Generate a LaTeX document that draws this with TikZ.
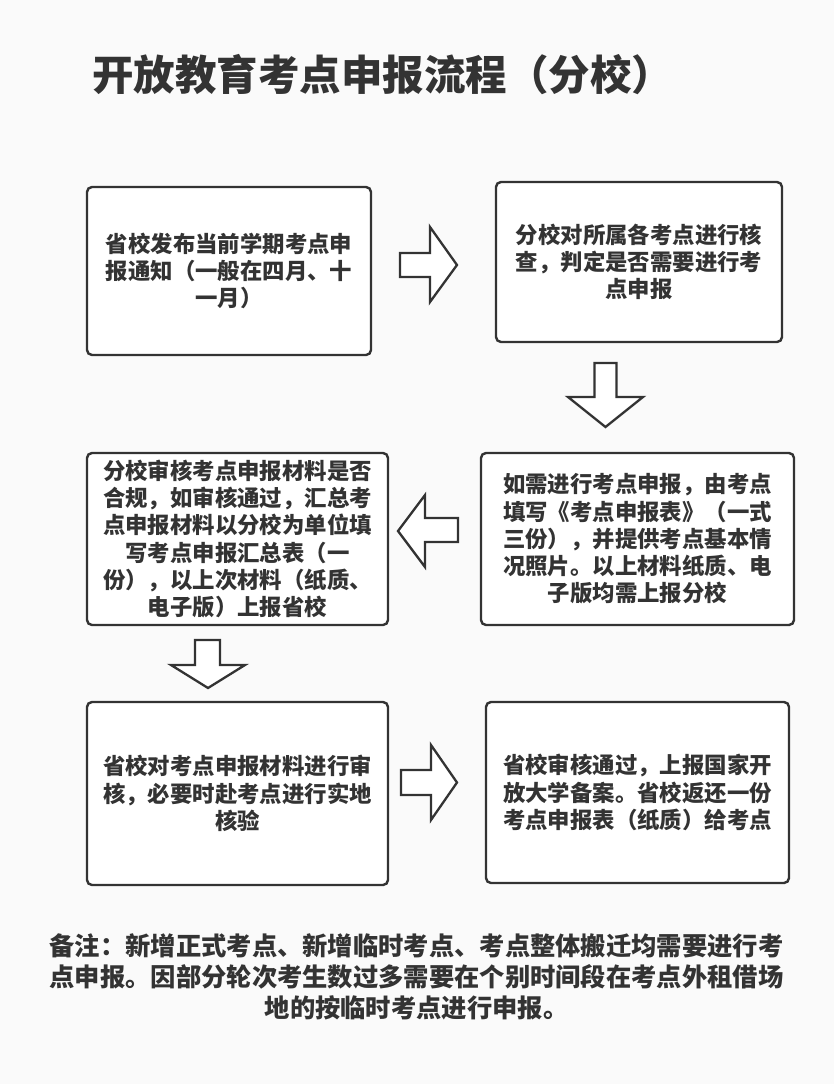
\documentclass[tikz,border=0pt]{standalone}
\usepackage{fontspec}
\setmainfont{Noto Sans CJK SC}
\definecolor{ink}{HTML}{333333}
\definecolor{bg}{HTML}{FAFAFA}
\tikzset{
  stepbox/.style={draw=ink, fill=white, line width=2.4pt, rounded corners=5pt,
    align=center, inner sep=0pt, text=ink,
    font=\fontsize{22.4}{27.2}\selectfont\bfseries},
  blockarrow/.style={draw=ink, fill=white, line width=2.3pt, line join=miter},
}
\begin{document}
\begin{tikzpicture}[x=1pt,y=-1pt]
\fill[bg] (0,0) rectangle (834,1084);
\useasboundingbox (0,0) rectangle (834,1084);

\node[text=ink, anchor=west, inner sep=0pt, font=\fontsize{41.5}{46}\selectfont\bfseries] (title) at (92,75) {开放教育考点申报流程（分校）};

\node[stepbox, minimum width=284pt, minimum height=168pt] (b1) at (229,271)
  {省校发布当前学期考点申\\报通知（一般在四月、十\\一月）};
\node[stepbox, minimum width=286pt, minimum height=160pt] (b2) at (639,262)
  {分校对所属各考点进行核\\查，判定是否需要进行考\\点申报};
\node[stepbox, minimum width=313pt, minimum height=172pt] (b4) at (637.5,539)
  {如需进行考点申报，由考点\\填写《考点申报表》（一式\\三份），并提供考点基本情\\况照片。以上材料纸质、电\\子版均需上报分校};
\node[stepbox, minimum width=301pt, minimum height=172pt] (b3) at (237.5,539)
  {分校审核考点申报材料是否\\合规，如审核通过，汇总考\\点申报材料以分校为单位填\\写考点申报汇总表（一\\份），以上次材料（纸质、\\电子版）上报省校};
\node[stepbox, minimum width=301pt, minimum height=183pt] (b5) at (237.5,793.5)
  {省校对考点申报材料进行审\\核，必要时赴考点进行实地\\核验};
\node[stepbox, minimum width=303pt, minimum height=181pt] (b6) at (637.5,792.5)
  {省校审核通过，上报国家开\\放大学备案。省校返还一份\\考点申报表（纸质）给考点};

% block arrows
\draw[blockarrow] (400,253)--(430,253)--(430,227)--(457,265)--(430,302)--(430,277)--(400,277)--cycle;
\draw[blockarrow] (594.5,363)--(616.5,363)--(616.5,397)--(643,397)--(605.5,427)--(568,397)--(594.5,397)--cycle;
\draw[blockarrow] (458,518)--(425,518)--(425,495)--(398,531)--(425,567)--(425,542)--(458,542)--cycle;
\draw[blockarrow] (195,640)--(220,640)--(220,665)--(245,665)--(208,688)--(171,665)--(195,665)--cycle;
\draw[blockarrow] (401,770)--(431,770)--(431,745)--(457,782.5)--(431,820)--(431,795)--(401,795)--cycle;

\node[text=ink, align=center, inner sep=0pt, font=\fontsize{25.3}{31}\selectfont\bfseries] (note) at (416.5,977)
  {备注：新增正式考点、新增临时考点、考点整体搬迁均需要进行考\\点申报。因部分轮次考生数过多需要在个别时间段在考点外租借场\\地的按临时考点进行申报。};
\end{tikzpicture}
\end{document}
